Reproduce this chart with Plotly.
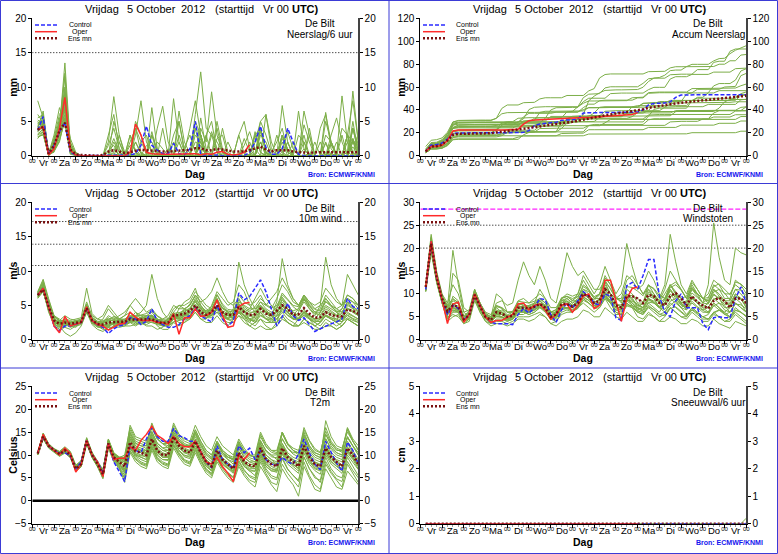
import plotly.graph_objects as go

W, H = 778, 554
FONT = "Liberation Sans, Arial, Helvetica, sans-serif"

# ---------------- time axis ----------------
lead_hours = list(range(6, 361, 6))          # 6-hourly steps, +6h .. +360h
oper_hours = lead_hours[:40]                 # operational run to +240h
boundary_hours = list(range(0, 361, 24))     # 00 UTC day boundaries
minor_hours = [h for h in range(6, 360, 6) if h % 24]
day_labels = ["Vr", "Za", "Zo", "Ma", "Di", "Wo", "Do", "Vr", "Za", "Zo", "Ma", "Di", "Wo", "Do", "Vr"]
day_centers = [12 + 24 * d for d in range(len(day_labels))]

# ---------------- Neerslag / 6 uur (mm) ----------------
precip_control = [3.7,5.7,0.2,1.5, 3.5,4.8,0.5,0.1, 0,0,0,0,
                  0,0,0,0, 0,0.1,0.3,1.5, 4.3,1.5,0.8,0.3,
                  0.3,1.8,0.3,0.1, 1.0,5.0,0.2,0, 0,0.1,0,0,
                  0,0,0,0.5, 2.0,4.3,1.2,0.2, 0.2,1.0,4.0,2.0,
                  0.2,0,0,0, 0,0,0,0, 0,0,0,0]
precip_oper = [3.8,4.2,0.1,1.0, 4.0,8.5,0.8,0.1, 0,0,0,0,
               0,0,0,0, 0,0.5,4.6,3.0, 0.5,0.3,0.2,0.2,
               0.2,0.2,0.3,0.2, 0.3,0.3,0.1,0.3, 0.2,0.5,0.6,0.2,
               0.1,0.2,0.5,1.6]
precip_mean = [3.8,4.2,0.3,1.5, 3.6,4.8,0.9,0.2, 0.1,0.05,0.05,0,
               0.1,0.6,0.8,0.6, 0.4,0.5,0.7,0.9, 0.8,0.7,0.6,0.6,
               0.6,0.7,0.8,0.8, 0.8,1.1,1.1,0.8, 0.8,1.0,0.9,0.7,
               0.6,0.6,0.6,0.8, 1.0,1.3,0.9,0.6, 0.8,0.8,0.8,0.6,
               0.5,0.4,0.4,0.5, 0.5,0.6,0.6,0.5, 0.5,0.5,0.5,0.5]
precip_members = [
    [4.5,5.0,0.3,2.0, 4.0,13.5,1.5,0.2, 0,0,0.1,0,
     0,1.5,4.0,1.0, 0.2,0,0,0, 0,0,0.3,0,
     0,0,0.2,0, 0,2.0,1.5,0, 0.3,0,0,0,
     0,0,0,0.2, 0,0,0.3,0, 0,2.5,1.0,0,
     0,0,0.3,0, 0,0.2,0,0, 0,0.5,0,0],
    [3.0,4.0,0.0,1.0, 3.0,6.0,0.5,0.0, 0,0,0,0,
     0,0,2.0,0.5, 0,0.3,0,0, 0,0.5,0,0,
     0,3.0,5.0,1.0, 0,6.0,12.2,4.0, 3.0,2.0,0.5,0,
     0,0.3,0,0, 2.0,5.0,3.0,0.5, 2.0,4.0,0.5,0,
     3.0,2.0,0,0, 0,3.0,2.0,0.3, 4.0,3.0,2.0,2.0],
    [8.0,5.5,0.5,1.5, 5.0,9.0,1.0,0.1, 0,0,0.1,0,
     0,2.0,8.6,3.0, 0,0,2.0,0.3, 0,3.0,1.0,0,
     0,0,2.0,0, 0,0,4.0,2.0, 9.3,3.0,0.5,0,
     0,0,0,0, 0,2.0,0.3,0, 0,3.0,1.0,0,
     0,0,0.2,0, 0,0,2.0,0, 3.0,0,5.0,0.5],
    [2.5,3.5,0.1,0.8, 2.5,5.0,0.3,0, 0,0,0,0,
     0,0,0,0, 0,1.5,1.0,0, 0,0,0,0.2,
     0,0,0,0, 0,0,1.5,0, 0,0,0,0,
     0,0,0,0, 0,0,0,0, 0,0.2,0,0,
     0,1.0,0,0, 0,0,0,0, 0,0,1.3,0],
    [4.0,6.5,0.2,2.5, 6.0,7.5,2.0,0.3, 0,0,0,0,
     0,0,0.3,0, 0,0,3.0,8.0, 2.0,0.5,0,0,
     0,0,0,0, 0,3.0,2.0,0, 0,0,0.3,0,
     0,0,2.5,0.5, 0,4.0,0.5,0, 0,0,0,0,
     0,3.0,0,0, 0,0.5,0,0, 0,0,2.0,1.5],
    [3.5,4.5,0.1,1.2, 3.5,8.0,0.8,0.1, 0,0,0,0,
     0,0,5.0,2.0, 0,0,0,0, 0,0,4.0,7.2,
     2.0,0.3,0,0, 0,5.0,3.0,0, 0,0,4.0,0.5,
     0,0,0,0, 0,3.0,2.0,0, 0,7.3,2.0,0,
     0,2.0,0,0, 0,2.0,0,0, 0,3.0,0.5,0],
    [5.0,4.0,0.3,3.0, 7.0,4.5,0.5,0, 0,0,0,0,
     0,0,0,0, 0,2.0,4.0,0.5, 0,7.0,1.0,0,
     0,0,0,0.3, 0,0,3.0,0, 0,0,0,0,
     0,0,0,0, 3.5,0.5,0,0, 0,0,2.0,0,
     0,0,0,0, 0,0,0.3,0, 0,0,4.0,0.5],
    [3.8,5.0,0.0,1.0, 4.5,10.0,0.5,0.2, 0,0,0,0,
     0,0,0,0, 0,0,0,0, 1.5,2.0,0,0,
     0,0,3.0,0.5, 0,0,0,0, 0,0,0,0,
     0,0,0,0, 0,3.5,0.5,0, 0,0,0,0,
     0,0,0,0, 0,0,0,0, 0,3.0,0.3,0],
    [2.8,3.0,0.2,0.5, 3.0,6.5,1.0,0, 0,0,0,0,
     0,0,0.5,3.0, 0.5,0,0,0, 0,0,0,0,
     0,8.3,2.0,0, 0,0,0.5,3.0, 0,4.0,0.5,0,
     0,0,0,0, 0,0,6.0,2.0, 0,0,0,0,
     6.5,1.0,0,0, 0,0,2.0,0, 0,0,0,0],
    [6.0,4.8,0.4,2.0, 4.0,7.0,2.5,0.5, 0,0,0,0,
     0,0,0,0, 0,0,2.0,0.3, 0,0,0,0,
     0,0,0,0, 0,4.0,0.5,0, 0,0,0,0,
     0,3.0,0.3,0, 0,2.0,0,0, 3.0,0.5,0,0,
     0,0,0,0, 2.0,0,0,0, 0,0,4.0,0.5],
    [3.2,3.8,0.0,1.5, 5.5,5.5,0.2,0, 0,0,0,0,
     0,3.0,6.0,1.0, 0,3.0,0.5,0, 0,0,0,0,
     0,0,5.0,0.5, 4.0,8.0,3.0,0.5, 0,5.0,1.0,0,
     0,0,0,0, 3.0,4.0,0.5,0, 0,3.0,0.5,0,
     0,0,4.0,0, 0,6.3,1.0,0, 8.7,2.0,0,0],
    [4.2,5.2,0.2,1.8, 3.8,11.5,0.8,0.1, 0,0,0,0,
     0,0,0,0, 0,0,0,2.0, 3.0,0.5,0,0,
     0,0,0,0, 0,0,2.0,0, 0,0,0,2.0,
     0.3,0,0,0, 0,0,0,0, 0,0,2.0,0,
     0,0,0,0, 0,0,0,0, 0,0,0,3.4],
    [3.5,4.2,0.1,0.6, 2.0,5.5,0.5,0, 0,0,0,0,
     0,0,1.0,0, 0,0,0,0, 0,0,0,0,
     0,2.0,0.3,0, 0,0,3.0,0, 0,0,0,0,
     0,0,0,0, 0,2.0,0,0, 0,0,0,2.0,
     0,0,0,0, 0,0,1.6,0, 0,0,2.0,0],
    [5.5,6.0,0.3,2.2, 5.0,8.5,1.2,0.3, 0,0,0,0,
     0,0,0,0, 0,0,5.0,3.0, 0,0,0,0,
     1.0,0,0,0, 0,4.0,3.0,0, 3.0,0.5,0,0,
     0,0,0,2.0, 0,4.0,0.5,0, 0,0,0,0,
     0,0,3.0,0, 0,0,0,2.0, 0,0.5,9.4,2.0],
    [3.0,3.5,0.1,1.0, 3.2,7.2,0.6,0.1, 0,0,0,0,
     0,0,0,2.0, 0,0,0,0, 0,3.0,0.3,0,
     0,0,0,0, 0,0,2.5,0, 0,0,0,0,
     0,0,0,0, 0,0,0,0, 0,3.0,0.5,0,
     0,0,0,2.0, 0,1.8,0,0, 0,2.0,0,0],
    [4.8,4.5,0.2,1.6, 4.2,9.5,1.8,0.2, 0,0,0,0,
     0,0,0,0, 0,3.0,0.5,0, 0,0,0,4.0,
     0,0,0,0, 0,0,0,3.0, 5.0,0.5,0,0,
     0,0,0,0, 3.0,0.5,0,0, 0,2.0,0,0,
     0,0,0,0, 0,0,0,0, 0,3.0,2.2,0],
    [3.6,4.8,0.2,1.3, 3.8,7.8,1.0,0.1, 0,0,0,0,
     0,0.5,2.5,0.5, 0,0,0.3,0, 0,0,2.0,1.0,
     0,0,0,0, 0,0,0,0.5, 3.5,1.0,0,0,
     0,0,0,0, 0,0,0,0, 0,0.5,3.5,1.0,
     0,0,0,0, 0,0,0,0.3, 0,0,2.5,0.5],
    [4.3,5.5,0.4,2.4, 4.6,6.8,1.4,0.2, 0,0,0,0,
     0,0,0,0.3, 0,0,0,0, 0,0,0,0,
     0,0,6.5,2.0, 0.3,0,0,0, 0,0,0,0,
     0,3.0,5.0,1.0, 0,0,0,0, 0,0,0,0,
     0,4.5,2.0,0, 0,0,0,0, 0,0,4.0,1.5],
    [2.6,3.2,0.0,0.7, 2.2,5.2,0.4,0, 0,0,0,0,
     0,0,0,0, 0,0,4.0,2.0, 0.5,0,0,0,
     0,0,0,0, 0,0,5.5,1.0, 0,0,0,0,
     0,0,0,0, 0,4.0,1.0,0, 0,0,0,0,
     0,0,0,0, 0,5.0,2.0,0, 0,0,0,0],
    [5.2,4.6,0.3,1.9, 4.4,12.0,0.9,0.2, 0,0,0,0,
     0,0,0,0, 0,0,0,0, 0,0,0,0,
     0,0,0,0, 0,0,0,0, 0,0,0,0,
     0,0,0,0, 0,5.0,6.0,1.0, 0,0,0,0,
     0,6.5,3.0,0, 4.0,6.0,2.0,0, 0,3.0,8.0,2.0],
    [3.9,4.4,0.1,1.1, 3.3,8.6,0.7,0.1, 0,0,0,0,
     0,0,0,0, 0,0,0,0, 0,3.5,0.5,0,
     0,0,0,0, 0,0,0,0, 0,2.5,3.0,0,
     0,0,0,0, 0,0,0,0, 0,0,0,0,
     0,0,0,0, 0,0,0,0, 0,0,2.5,0],
    [4.6,5.8,0.3,1.7, 4.9,7.0,1.1,0.2, 0,0,0,0,
     0,0.8,1.5,0, 0,0,0,0, 0,0,0,0,
     0,0,0,1.2, 3.0,0.5,0,0, 0,0,0,0,
     0,0,1.5,3.5, 1.0,0,0,0, 0,0,0,0,
     0,0,0,0, 0,0,3.0,5.5, 2.0,0,0,0],
]

# ---------------- 10 m wind (m/s) ----------------
wind_control = [6.5,7.5,4.8,2.0, 1.3,2.0,2.0,2.3, 2.5,4.7,2.8,2.2,
                1.8,0.9,1.6,2.0, 2.2,3.2,3.0,2.2, 2.7,4.5,2.7,2.2,
                1.8,1.8,2.2,3.0, 3.5,4.6,3.5,3.0, 2.6,5.0,3.0,2.0,
                2.7,6.8,5.8,6.3, 7.5,8.7,7.0,4.5, 2.0,3.3,5.3,3.5,
                2.8,3.2,2.2,1.2, 1.6,2.0,2.3,2.6, 3.0,6.0,4.8,4.5]
wind_oper = [6.5,7.5,4.8,2.0, 1.0,3.4,2.0,2.2, 2.5,4.8,2.8,2.2,
             2.0,1.4,1.8,2.3, 2.4,4.0,3.3,2.8, 2.8,2.8,2.5,2.5,
             2.2,3.8,0.8,3.2, 3.2,4.5,3.4,3.5, 4.0,5.8,3.5,1.8,
             2.0,4.8,5.3,5.4]
wind_mean = [6.5,7.3,4.8,2.8, 2.3,2.5,2.3,2.4, 2.6,4.6,2.8,2.3,
             2.2,2.5,2.6,2.6, 2.6,3.0,2.9,2.9, 2.9,3.0,2.6,2.4,
             2.5,3.5,3.6,3.8, 4.2,5.0,4.0,3.6, 4.0,5.0,4.0,3.6,
             3.6,4.8,4.0,3.6, 3.7,4.5,3.8,3.6, 4.2,5.0,4.5,3.6,
             3.7,4.6,3.8,3.2, 3.3,4.0,3.6,3.4, 3.4,4.4,4.2,3.8]
wind_members = [
    [6.8,8.0,5.2,3.0, 2.5,3.0,2.0,2.5, 2.8,5.0,3.0,2.5,
     3.0,4.5,3.5,2.8, 2.5,3.0,4.0,3.0, 2.8,3.5,2.5,2.0,
     2.0,3.0,4.5,5.5, 6.0,7.5,5.0,4.0, 4.5,6.0,4.0,3.0,
     2.5,3.5,3.0,2.0, 2.5,4.0,3.0,2.5, 3.5,6.0,5.0,4.0,
     3.5,4.5,3.0,2.5, 2.0,3.0,2.5,2.0, 2.5,5.0,4.5,3.5],
    [6.2,7.0,4.5,2.5, 1.5,2.0,2.5,2.8, 2.5,4.2,2.5,2.0,
     1.5,1.5,2.0,2.5, 3.0,3.5,2.5,3.0, 3.5,4.0,3.0,2.5,
     3.0,4.0,3.0,3.0, 3.5,4.5,3.5,3.5, 5.0,7.0,6.0,5.0,
     5.5,8.0,7.0,5.0, 4.0,5.0,4.0,3.0, 2.5,3.5,2.5,2.0,
     3.0,4.0,3.5,3.0, 4.0,5.5,5.0,4.0, 3.0,3.5,3.0,2.5],
    [6.6,7.6,5.5,3.5, 3.0,2.5,2.0,2.0, 2.5,5.0,3.2,2.5,
     2.0,2.5,3.0,3.5, 4.0,5.0,4.0,3.5, 3.0,3.5,3.0,2.5,
     2.0,2.5,2.0,2.5, 3.0,4.0,3.0,2.5, 2.5,3.5,2.5,2.0,
     3.0,5.0,4.0,4.5, 6.0,7.5,6.0,5.0, 4.0,5.5,4.5,3.5,
     3.0,4.0,3.0,2.0, 1.5,2.5,2.0,1.5, 2.0,3.0,2.5,2.0],
    [6.4,7.2,4.0,2.2, 1.8,2.2,2.5,2.5, 2.5,4.5,2.5,2.0,
     2.5,3.0,2.0,1.8, 2.0,2.5,2.0,2.5, 3.0,3.5,2.0,1.5,
     1.5,2.5,3.5,4.5, 5.0,6.5,5.5,4.5, 4.0,5.0,3.5,3.0,
     3.5,5.0,4.0,3.0, 3.0,4.0,3.0,3.0, 4.0,5.0,4.0,3.5,
     4.5,6.5,5.5,4.5, 5.0,6.0,5.0,4.0, 3.5,4.5,4.0,3.5],
    [7.0,8.8,6.0,3.5, 2.8,3.5,3.0,2.8, 3.0,5.5,3.5,3.0,
     3.5,5.0,4.0,3.0, 2.5,3.0,3.0,2.5, 2.0,2.0,1.5,1.8,
     2.5,4.0,5.0,4.5, 4.0,5.0,4.0,3.5, 4.0,6.5,5.0,4.0,
     3.0,4.0,3.5,2.5, 2.0,3.0,2.5,2.5, 3.0,4.0,3.0,2.5,
     2.0,3.0,2.5,2.0, 2.5,3.5,3.0,2.5, 3.0,4.5,4.0,3.5],
    [6.0,7.0,4.2,2.0, 1.5,1.8,1.5,2.0, 2.2,4.0,2.5,2.0,
     1.8,2.0,2.5,3.0, 3.5,4.0,3.0,2.5, 2.5,3.0,2.5,2.0,
     2.5,3.5,3.0,3.5, 4.5,6.0,5.0,4.0, 3.5,4.5,3.5,3.0,
     4.0,6.5,5.5,5.0, 5.5,6.5,5.0,4.5, 6.0,8.0,7.0,5.5,
     5.0,6.5,5.0,4.0, 3.5,4.5,4.0,3.5, 4.5,6.5,6.0,5.0],
    [6.7,7.8,5.0,3.0, 2.6,3.0,2.8,3.0, 3.2,7.5,3.8,3.0,
     2.8,3.0,3.2,3.0, 3.0,3.5,3.5,4.0, 5.0,9.5,6.0,4.0,
     3.0,3.5,2.8,3.0, 3.5,5.0,4.0,3.5, 3.5,4.5,4.0,3.5,
     4.5,11.3,8.0,6.0, 4.5,5.0,4.0,3.5, 3.0,4.5,3.5,3.0,
     3.0,4.0,3.5,3.0, 4.0,6.0,5.0,4.5, 5.0,6.0,5.5,5.0],
    [6.3,7.4,4.6,2.6, 2.0,2.3,2.2,2.3, 2.4,4.4,2.6,2.2,
     2.0,2.2,2.2,2.0, 2.0,2.0,2.2,2.5, 2.8,3.0,2.8,2.5,
     3.0,4.5,5.0,5.0, 5.5,7.0,6.0,5.0, 4.5,6.0,4.5,4.0,
     3.5,4.5,3.5,3.0, 2.5,3.0,2.0,1.5, 2.5,5.0,4.0,3.0,
     4.0,6.0,5.0,4.0, 4.5,6.5,5.5,4.5, 4.0,5.5,5.0,4.0],
    [6.9,8.2,5.8,3.2, 2.2,2.5,2.0,1.8, 2.5,4.8,3.0,2.3,
     2.5,3.5,3.0,2.5, 2.5,2.8,2.5,2.2, 2.5,2.8,2.5,2.2,
     2.0,3.0,3.5,3.0, 3.0,4.0,3.0,3.0, 4.5,5.5,4.0,3.5,
     3.0,4.0,3.0,2.5, 3.5,5.0,4.0,3.5, 5.5,11.8,8.0,6.0,
     5.0,6.0,4.5,3.5, 5.0,12.0,8.0,6.0, 5.0,9.5,8.0,6.5],
    [6.5,7.5,4.4,2.4, 2.4,2.7,2.6,2.6, 2.6,4.3,2.4,1.8,
     1.8,1.8,1.8,2.2, 2.4,3.0,3.5,3.5, 3.5,3.5,3.0,2.8,
     2.5,3.0,3.5,4.0, 4.5,5.5,4.5,4.0, 4.0,5.0,4.0,3.5,
     3.5,4.5,3.5,3.0, 2.5,3.5,3.0,2.5, 2.5,3.5,2.5,2.0,
     2.0,3.0,2.5,2.0, 2.5,3.5,3.0,2.5, 2.0,3.0,2.5,2.0],
    [6.6,7.0,4.8,3.0, 2.0,1.0,0.5,1.0, 2.0,4.0,2.2,1.5,
     1.2,1.8,2.5,3.0, 3.5,5.0,6.0,5.0, 4.0,4.5,3.5,3.0,
     3.0,3.0,2.5,2.5, 3.5,4.5,3.5,3.5, 3.5,4.0,3.0,2.5,
     2.5,3.5,2.5,2.0, 1.5,2.0,1.5,1.5, 2.0,3.0,2.5,2.0,
     2.0,2.5,2.0,1.5, 1.5,2.0,2.0,1.5, 2.0,3.0,2.5,2.0],
    [6.4,7.9,5.3,3.4, 2.8,2.8,2.4,2.6, 2.8,4.9,3.2,2.6,
     2.5,2.8,2.8,2.6, 2.5,3.0,3.2,3.0, 3.0,3.0,2.8,3.0,
     3.5,5.0,4.5,4.5, 5.0,6.5,5.5,6.0, 7.0,9.0,7.0,5.5,
     5.0,6.0,4.5,4.0, 4.0,4.5,4.0,3.5, 4.0,5.0,4.0,3.0,
     3.0,3.5,3.0,2.5, 3.0,4.0,3.5,3.0, 3.5,4.0,3.5,3.0],
    [6.2,7.1,4.3,2.6, 2.2,2.0,2.5,2.8, 2.6,4.6,2.7,2.1,
     2.4,2.6,2.3,2.4, 2.3,2.6,2.3,2.6, 2.6,2.5,2.2,2.0,
     2.0,2.6,2.8,3.2, 3.8,4.5,3.8,3.2, 3.2,4.0,3.5,3.5,
     4.0,5.5,5.0,4.5, 4.5,5.5,5.0,6.0, 7.0,9.0,7.5,6.0,
     5.0,6.5,5.5,5.0, 5.5,7.5,6.5,5.5, 5.0,6.5,6.0,5.0],
    [6.8,8.4,5.0,2.8, 2.6,2.4,2.2,2.2, 2.4,4.4,2.8,2.4,
     2.2,2.0,2.4,2.6, 2.6,3.2,3.0,3.2, 3.4,3.6,3.0,2.6,
     2.6,3.6,3.6,3.8, 4.0,4.8,3.8,3.2, 3.6,4.6,3.6,3.2,
     3.2,4.2,3.4,3.0, 3.4,4.6,3.8,3.4, 4.2,5.2,4.4,3.6,
     3.2,4.0,3.4,3.0, 3.0,3.6,3.2,3.0, 2.6,3.2,2.8,2.5],
    [6.6,7.7,5.1,2.9, 2.1,2.6,2.4,2.4, 2.7,4.9,3.0,2.4,
     2.3,2.9,3.4,3.1, 2.8,3.3,3.0,2.7, 3.0,3.4,2.9,2.6,
     2.8,3.6,3.2,3.5, 4.0,4.8,4.2,3.8, 3.8,4.6,3.8,3.6,
     3.2,4.0,3.6,3.4, 3.8,5.0,4.3,3.6, 3.4,4.2,3.6,3.0,
     2.8,3.6,3.2,2.8, 2.6,3.4,3.0,2.6, 3.2,4.6,4.2,3.6],
    [6.1,7.3,4.6,2.3, 1.9,2.1,2.1,2.4, 2.3,4.1,2.6,2.0,
     1.7,1.9,2.6,2.9, 2.6,2.8,2.6,2.8, 3.2,3.1,2.4,2.1,
     2.2,3.2,3.9,4.3, 5.2,6.3,4.8,4.2, 4.3,5.6,4.6,4.2,
     4.0,5.2,4.1,3.5, 3.2,4.2,3.4,3.0, 4.5,6.5,5.8,4.8,
     4.2,5.5,4.5,3.8, 3.6,4.8,4.2,3.6, 3.8,5.2,4.6,4.0],
    [6.5,7.6,4.9,2.7, 2.5,2.9,2.6,2.5, 2.6,4.5,2.7,2.2,
     2.1,2.3,2.6,2.7, 2.5,2.7,2.8,3.3, 3.2,3.3,2.7,2.4,
     2.3,3.2,3.0,3.4, 3.9,5.2,4.4,3.9, 4.4,5.8,4.7,4.0,
     4.2,5.8,4.8,4.2, 4.8,6.0,5.2,4.6, 5.0,6.2,5.0,4.0,
     3.5,4.2,3.6,3.0, 3.2,4.2,3.8,3.4, 3.0,3.8,3.4,3.0],
    [6.9,8.6,5.6,3.3, 2.7,2.2,1.8,2.1, 2.6,4.7,2.9,2.5,
     2.6,3.2,2.6,2.2, 2.2,2.5,2.7,2.4, 2.2,2.6,2.3,2.3,
     2.6,3.8,4.0,3.6, 3.5,4.3,3.6,3.2, 3.5,4.8,4.2,3.8,
     3.8,4.6,4.0,3.8, 4.2,5.5,4.5,4.0, 4.6,5.8,4.8,4.2,
     4.5,5.8,4.8,4.0, 4.0,5.0,4.5,4.0, 4.5,6.0,5.5,4.5],
    [6.3,7.2,4.4,2.5, 2.3,2.4,2.2,2.3, 2.5,4.3,2.5,2.0,
     2.0,2.1,2.3,2.3, 2.4,2.9,2.9,3.2, 3.0,3.2,2.9,2.7,
     2.4,3.3,3.7,4.1, 4.6,5.6,4.5,3.7, 3.6,4.3,3.3,2.9,
     2.9,3.9,3.2,2.8, 2.8,3.6,3.1,2.8, 3.6,4.6,3.9,3.2,
     3.0,3.8,3.1,2.6, 2.7,3.6,3.2,2.8, 2.6,3.6,3.1,2.8],
    [6.7,7.9,5.4,3.1, 2.4,2.7,2.5,2.7, 2.9,5.2,3.3,2.7,
     2.6,2.7,2.9,2.9, 2.9,3.4,3.3,3.6, 3.8,4.2,3.4,2.9,
     2.7,3.9,3.4,3.6, 4.3,5.8,4.6,4.2, 4.8,6.6,5.2,4.4,
     4.3,5.3,4.3,3.6, 3.6,4.8,4.1,3.8, 4.8,6.8,5.9,5.0,
     4.8,6.2,5.2,4.4, 4.2,5.6,4.8,4.2, 4.0,5.4,4.8,4.2],
]

# ---------------- Windstoten (m/s) ----------------
gust_control = [11.0,21.5,14.0,8.5, 5.5,7.5,6.8,4.2, 5.5,9.8,7.5,5.0,
                3.8,3.5,3.5,3.5, 3.3,5.5,6.8,5.8, 7.0,9.0,8.7,5.5,
                3.8,6.5,8.0,7.0, 8.5,10.5,9.5,8.0, 7.5,10.0,9.5,4.8,
                4.2,11.8,12.5,11.0, 14.0,17.5,17.5,9.5, 6.0,5.0,8.5,10.0,
                7.0,7.0,7.0,3.5, 2.2,4.8,5.0,4.8, 4.8,9.0,11.5,8.0]
gust_oper = [11.5,21.5,14.0,8.5, 3.5,7.8,8.2,3.8, 5.5,10.0,7.5,5.0,
             3.8,4.2,4.2,4.8, 5.5,7.8,8.0,6.5, 7.5,7.8,6.5,4.5,
             5.5,7.5,7.8,6.0, 7.5,9.5,10.0,6.8, 7.5,13.0,13.0,8.5,
             4.0,9.0,11.2,11.5]
gust_mean = [11.5,21.0,13.5,9.0, 6.2,7.5,7.2,4.5, 5.3,9.8,7.2,5.0,
             4.3,6.0,5.7,5.0, 5.2,7.0,7.0,6.8, 7.2,7.8,7.0,5.0,
             5.5,7.8,7.8,7.2, 8.0,10.0,9.5,8.0, 8.5,11.0,10.0,7.5,
             7.0,9.5,9.5,9.0, 8.0,9.8,9.5,8.0, 7.5,9.5,10.2,9.0,
             7.5,9.5,8.2,7.5, 6.8,8.5,9.2,8.5, 7.0,9.0,9.0,8.0]
gust_members = [
    [11.0,22.0,14.0,9.0, 6.0,8.0,7.0,4.5, 5.5,10.0,7.0,5.0,
     4.0,6.0,6.5,5.0, 5.5,7.5,7.0,6.5, 7.0,8.0,7.0,5.0,
     6.0,8.0,8.5,7.5, 8.5,11.0,10.0,8.0, 9.0,12.0,10.0,8.0,
     7.0,10.0,9.0,7.0, 6.0,8.0,7.0,6.0, 8.0,12.0,10.0,8.0,
     7.0,9.0,8.0,7.0, 6.0,8.0,7.0,6.0, 7.0,10.0,9.0,7.0],
    [10.5,20.0,13.0,8.0, 4.0,5.0,5.5,3.5, 4.5,9.0,6.0,4.0,
     3.5,4.0,4.0,3.5, 4.0,5.0,5.0,5.0, 5.5,6.0,5.0,3.5,
     4.0,5.5,6.0,6.0, 7.0,8.0,7.0,6.0, 7.0,9.0,7.0,5.5,
     5.5,8.0,7.0,5.0, 4.5,6.0,5.0,4.0, 5.0,7.0,6.0,5.0,
     4.5,6.0,5.0,4.0, 4.0,5.5,5.0,4.0, 4.5,6.0,5.0,4.0],
    [12.0,23.0,15.0,10.0, 8.0,12.0,10.0,6.0, 6.5,11.0,8.0,6.0,
     5.5,7.5,7.0,6.0, 6.0,8.5,9.0,8.0, 9.0,10.0,9.0,7.0,
     7.0,9.0,10.0,9.5, 10.0,13.0,11.0,9.0, 10.0,14.0,12.0,9.5,
     8.0,11.0,10.0,8.0, 8.0,11.0,10.0,8.5, 11.0,15.0,13.0,11.0,
     9.0,12.0,10.0,8.0, 9.0,12.0,11.0,9.0, 9.0,13.0,12.0,10.0],
    [11.5,21.0,13.5,9.0, 5.0,14.5,13.0,7.0, 6.0,10.5,7.5,5.5,
     4.5,5.0,5.0,4.5, 5.0,6.0,6.0,5.5, 6.0,7.0,6.0,4.5,
     5.0,6.5,7.0,7.0, 8.0,10.5,9.0,7.5, 8.0,11.0,9.0,7.0,
     6.5,9.5,8.0,6.5, 7.0,9.5,9.0,7.0, 8.0,11.0,9.0,7.5,
     7.0,9.0,8.0,7.0, 8.0,11.0,9.5,8.0, 8.0,10.0,9.0,7.0],
    [11.0,21.5,14.5,9.5, 7.0,19.5,12.0,6.0, 5.0,9.5,7.0,5.0,
     4.5,7.0,6.0,4.5, 5.0,7.0,6.5,6.0, 7.0,8.5,7.5,5.5,
     5.5,8.0,9.0,8.0, 9.0,12.0,11.0,9.0, 10.0,12.5,10.0,8.0,
     7.0,9.0,7.5,6.0, 5.5,7.5,6.5,5.5, 6.0,8.0,7.0,6.0,
     5.0,7.0,6.0,5.0, 5.5,7.5,6.5,5.5, 5.0,7.0,6.0,5.0],
    [10.8,19.0,12.5,8.0, 4.5,6.0,6.0,4.0, 4.5,9.0,6.5,4.5,
     4.0,5.0,5.0,4.0, 4.5,5.5,5.5,6.5, 8.0,11.0,9.0,6.0,
     5.5,7.0,8.0,8.5, 10.0,14.0,12.0,10.0, 12.0,16.0,13.0,10.0,
     12.0,21.0,16.0,12.0, 10.0,12.0,10.0,8.0, 9.0,12.0,10.0,8.0,
     7.0,9.5,8.0,6.5, 7.0,9.0,8.0,6.5, 6.0,8.0,7.0,6.0],
    [11.8,22.5,14.0,8.5, 6.5,7.0,6.5,4.0, 5.0,10.0,7.5,5.5,
     5.0,10.0,9.0,6.0, 6.0,8.0,7.5,7.0, 7.5,9.0,8.0,6.0,
     6.5,9.0,9.5,8.5, 8.5,10.0,9.0,8.0, 8.0,10.0,8.5,7.0,
     7.0,9.0,8.0,7.0, 8.0,12.0,11.0,9.0, 12.0,23.0,17.0,12.0,
     10.0,13.0,11.0,9.0, 8.0,10.0,9.0,7.0, 7.0,9.0,8.0,6.0],
    [11.2,20.5,13.0,8.5, 5.5,6.5,6.0,4.0, 5.0,9.5,6.5,4.5,
     3.5,4.5,4.5,4.0, 4.5,6.0,6.0,5.5, 6.0,7.0,6.5,4.5,
     4.0,6.0,6.5,6.0, 7.0,9.0,8.0,7.0, 8.0,10.0,8.0,6.5,
     6.5,8.5,7.5,6.0, 6.5,9.0,8.0,7.0, 8.0,10.0,8.5,7.0,
     8.0,11.0,9.5,8.0, 12.0,25.5,18.0,13.0, 12.0,20.0,19.0,18.5],
    [12.0,22.0,14.5,9.5, 7.5,9.0,8.0,5.0, 6.0,11.0,8.0,5.5,
     5.0,8.0,8.5,7.5, 8.0,13.0,17.0,14.0, 12.0,16.0,13.0,9.0,
     8.0,13.0,19.0,16.0, 14.0,15.0,13.0,11.0, 11.0,13.0,11.0,9.0,
     8.5,10.0,9.0,7.5, 7.0,9.0,8.0,7.0, 7.5,9.0,8.0,7.0,
     6.5,8.0,7.0,6.0, 6.0,8.0,7.0,5.5, 6.0,8.0,7.0,6.0],
    [10.5,20.5,12.5,8.0, 4.5,5.5,5.0,3.5, 4.0,8.5,6.0,4.0,
     3.0,3.5,3.5,3.0, 3.5,4.5,4.5,4.0, 4.5,5.5,5.0,3.5,
     3.0,4.0,4.5,4.5, 5.0,6.5,6.0,5.0, 5.0,7.0,6.0,5.0,
     4.5,6.0,5.0,4.0, 4.0,5.5,5.0,4.0, 4.0,5.0,4.5,3.5,
     3.5,4.5,4.0,3.0, 3.0,4.5,3.5,3.0, 2.5,4.0,3.5,3.0],
    [11.5,21.0,13.5,9.0, 6.0,7.5,7.0,4.5, 5.5,10.0,7.0,5.0,
     4.0,5.5,5.5,5.0, 5.0,7.0,7.0,7.5, 8.0,9.0,8.0,6.0,
     6.0,9.0,9.5,9.0, 9.5,11.0,10.5,9.0, 9.0,11.5,10.0,9.0,
     10.0,14.0,13.0,11.0, 12.0,15.0,13.0,10.0, 9.0,11.0,9.5,8.0,
     8.5,11.0,10.0,9.0, 10.0,13.0,12.0,10.0, 10.0,12.0,11.0,9.0],
    [11.0,20.0,13.0,8.5, 5.5,6.5,6.0,3.8, 4.8,9.5,6.8,4.8,
     4.0,6.5,6.0,5.0, 5.0,6.5,6.0,6.0, 6.5,7.5,6.5,5.0,
     5.0,7.0,7.0,6.5, 7.0,9.0,8.0,7.0, 7.5,9.5,8.0,6.5,
     6.0,8.0,7.0,6.0, 5.5,7.0,6.0,5.0, 5.5,7.0,6.0,5.0,
     5.0,6.5,5.5,4.5, 4.5,6.0,5.0,4.0, 4.0,5.5,4.5,3.5],
    [11.3,21.8,14.2,9.2, 6.8,8.5,7.8,4.8, 5.8,10.4,7.6,5.3,
     4.6,6.2,6.0,5.2, 5.6,7.6,7.8,7.2, 7.4,8.4,7.4,5.4,
     6.2,8.6,8.4,7.6, 8.0,10.0,9.4,8.2, 8.6,10.4,9.0,7.6,
     7.6,9.6,8.6,7.4, 7.8,10.4,9.6,8.2, 10.0,12.0,10.5,9.0,
     9.5,12.5,11.0,9.0, 8.5,11.0,10.0,8.5, 8.5,11.0,10.0,8.5],
    [10.6,19.5,13.0,8.8, 6.2,7.0,6.8,4.2, 5.2,9.8,7.2,5.0,
     4.2,5.8,5.5,4.6, 5.0,6.8,6.6,6.4, 7.0,7.8,7.0,5.2,
     5.6,7.6,7.8,7.0, 7.6,9.4,8.6,7.4, 7.8,9.6,8.4,7.0,
     7.0,8.8,8.0,6.8, 7.0,9.0,8.4,7.2, 8.8,10.6,9.6,8.2,
     8.2,10.2,9.2,8.0, 7.8,9.8,9.0,7.6, 7.8,9.6,8.8,7.4],
    [11.2,21.2,13.8,9.0, 6.4,7.8,7.3,4.6, 5.4,9.9,7.3,5.1,
     4.4,6.0,5.8,5.0, 5.2,7.2,7.2,6.8, 7.2,8.0,7.2,5.2,
     5.8,8.2,8.0,7.4, 8.2,10.2,9.6,8.2, 8.6,11.2,10.0,7.8,
     7.2,9.8,9.6,9.0, 8.2,10.0,9.4,8.0, 7.6,9.4,10.0,9.0,
     7.6,9.6,8.4,7.6, 7.0,8.8,9.4,8.6, 7.2,9.2,9.0,8.0],
    [10.8,20.8,13.2,8.6, 5.8,6.8,6.4,4.0, 4.8,9.2,6.6,4.6,
     3.8,5.2,5.0,4.4, 4.6,6.2,6.2,6.0, 6.4,7.2,6.4,4.6,
     4.8,7.0,7.0,6.6, 7.4,9.2,8.6,7.4, 7.8,10.2,9.0,7.0,
     6.4,8.6,8.4,7.8, 7.0,8.6,8.2,7.0, 6.6,8.4,9.0,7.8,
     6.6,8.4,7.2,6.4, 5.8,7.4,8.0,7.4, 6.0,7.8,7.6,6.8],
    [11.6,22.2,14.6,9.8, 7.2,8.8,8.2,5.2, 6.2,10.8,8.0,5.8,
     5.0,7.2,7.0,6.0, 6.2,8.4,8.2,8.0, 8.4,9.0,8.0,6.0,
     6.6,9.2,9.4,8.6, 9.4,11.6,10.8,9.4, 10.0,12.6,11.2,9.0,
     8.4,11.6,11.4,10.6, 9.6,11.8,11.2,9.6, 9.0,11.4,12.0,10.8,
     9.0,11.4,10.0,9.0, 8.4,10.4,11.0,10.2, 8.6,11.0,10.8,9.6],
    [11.4,21.6,14.2,9.2, 5.6,9.5,8.5,5.0, 5.6,10.2,7.4,5.2,
     4.2,5.6,5.0,4.2, 4.4,6.4,6.6,6.2, 6.6,7.8,7.4,5.6,
     5.2,7.2,7.0,6.2, 7.2,9.8,9.8,8.6, 9.8,13.5,12.0,9.0,
     9.0,13.0,14.0,12.0, 10.0,11.0,9.0,7.0, 6.0,7.5,8.5,7.0,
     5.5,7.0,6.0,5.0, 4.5,6.0,6.5,6.0, 5.0,6.5,6.0,5.0],
    [10.9,20.2,12.8,8.2, 4.8,6.2,6.4,4.4, 5.0,9.4,7.0,5.0,
     4.8,7.4,6.8,5.4, 6.0,8.0,7.4,7.4, 7.8,8.6,7.0,4.8,
     5.6,8.6,9.0,8.0, 8.6,10.6,9.2,7.4, 7.6,9.4,8.0,6.0,
     5.6,7.6,7.4,7.0, 6.4,8.2,8.0,7.0, 8.8,11.8,12.6,11.0,
     9.0,11.4,10.0,9.0, 9.2,11.6,12.2,11.0, 9.8,12.6,12.2,11.0],
    [11.7,22.0,14.0,8.8, 6.0,7.0,6.6,4.2, 5.2,9.6,6.9,4.9,
     4.0,5.2,4.8,4.4, 4.8,6.4,6.4,6.0, 6.6,7.2,6.2,4.4,
     4.6,6.6,6.8,6.2, 6.8,8.6,8.0,6.8, 7.0,9.0,8.0,6.0,
     5.4,7.4,7.0,6.4, 5.8,7.2,6.6,5.6, 5.2,6.8,7.2,6.2,
     5.2,6.6,5.8,5.0, 4.4,5.8,6.4,5.8, 4.6,6.4,6.0,5.2],
]

# ---------------- T2m (Celsius) ----------------
t2m_control = [10.5,14.2,12.0,11.0, 10.5,10.5,9.8,7.0, 8.5,13.2,10.0,8.5,
               6.0,12.5,8.5,6.2, 4.2,12.0,11.0,10.5, 13.5,16.0,14.0,13.0,
               13.0,15.8,14.2,13.8, 13.0,13.0,10.8,8.5, 7.2,12.0,9.0,8.0,
               7.0,12.0,10.5,11.5, 9.0,11.0,9.0,8.0, 7.8,9.5,8.5,8.0,
               10.2,13.5,10.5,8.0, 6.8,13.0,10.5,8.2, 6.5,12.8,11.0,8.0]
t2m_oper = [10.5,14.5,12.0,11.0, 10.0,11.5,10.3,6.3, 8.0,13.2,10.0,8.5,
            5.3,12.5,9.0,9.3, 9.3,11.8,11.0,13.2, 14.5,16.3,14.3,13.5,
            12.5,14.0,12.5,11.8, 11.8,13.0,10.8,8.5, 8.0,9.5,7.5,6.0,
            4.2,10.0,9.0,10.5]
t2m_mean = [10.3,14.0,12.0,11.0, 10.2,11.0,10.0,7.0, 8.0,13.0,10.0,8.0,
            5.8,12.5,9.5,8.5, 7.5,12.8,10.8,10.5, 10.0,13.5,11.0,10.0,
            10.0,14.0,12.0,11.0, 10.5,13.0,10.5,8.5, 7.5,11.0,9.0,8.0,
            7.0,10.5,8.5,7.8, 7.5,11.5,9.0,8.0, 7.5,11.5,9.5,8.5,
            7.5,12.0,9.5,8.0, 7.5,11.5,9.5,8.5, 7.5,11.5,10.0,8.0]
t2m_members = [
    [10.5,14.5,12.2,11.0, 10.0,11.2,10.2,7.2, 8.2,13.2,10.2,8.2,
     6.0,12.8,9.8,9.0, 8.0,13.5,11.5,11.0, 10.5,14.5,12.0,11.0,
     11.0,15.0,13.0,12.0, 12.0,14.0,11.5,9.5, 8.5,12.0,10.0,9.0,
     8.0,11.5,9.5,8.5, 8.0,12.5,10.0,9.0, 8.5,12.5,10.5,9.5,
     9.0,13.0,10.5,9.0, 8.5,12.5,10.5,9.5, 9.0,13.0,11.0,9.0],
    [10.2,13.8,11.8,10.8, 10.2,10.8,9.8,6.8, 7.8,12.8,9.8,7.8,
     5.5,12.0,9.0,8.0, 6.5,12.0,10.0,9.5, 9.0,12.5,10.0,9.0,
     9.0,13.0,11.0,10.0, 9.5,12.0,9.5,7.5, 6.5,10.0,8.0,7.0,
     6.0,9.5,7.5,6.5, 6.5,10.5,8.0,7.0, 6.5,10.5,8.5,7.5,
     6.5,11.0,8.5,7.0, 6.5,10.5,8.5,7.5, 6.5,10.5,9.0,7.0],
    [10.4,14.2,12.1,11.2, 10.5,11.5,10.5,7.5, 8.5,13.5,10.5,8.5,
     6.5,13.5,10.5,9.5, 9.0,15.0,12.5,12.0, 12.0,16.0,13.5,12.5,
     12.5,16.5,14.5,13.5, 13.0,16.5,14.0,12.0, 11.0,14.0,12.0,11.0,
     10.0,13.5,11.5,10.0, 9.5,14.5,12.0,11.0, 10.5,15.0,12.5,11.0,
     10.5,15.0,12.0,10.5, 10.0,16.0,13.0,11.5, 11.0,15.5,13.0,11.0],
    [10.0,13.6,11.6,10.6, 9.8,10.5,9.5,6.5, 7.5,12.5,9.5,7.5,
     5.0,11.5,8.5,7.0, 5.0,11.0,9.0,8.0, 7.5,11.5,9.0,8.0,
     7.5,12.0,10.0,8.5, 8.0,11.0,8.5,6.5, 5.5,9.0,7.0,5.5,
     4.5,8.0,6.0,4.5, 4.0,8.5,6.0,4.0, 3.5,8.0,6.0,4.5,
     3.0,8.5,5.5,3.5, 2.5,8.0,6.0,4.5, 3.0,8.0,6.0,4.0],
    [10.6,14.8,12.5,11.4, 10.8,11.8,10.8,7.8, 8.8,13.8,10.6,8.8,
     6.8,13.2,10.0,9.2, 8.5,14.0,12.0,11.5, 11.0,14.5,12.0,11.0,
     10.5,14.5,12.5,11.5, 11.0,13.5,11.0,9.0, 8.0,12.5,10.5,9.5,
     9.0,12.5,10.5,10.0, 9.5,13.0,11.0,10.0, 9.0,13.5,11.5,10.5,
     10.5,14.0,11.5,10.0, 9.5,13.5,11.5,10.5, 10.0,14.0,12.0,10.5],
    [10.3,14.1,12.0,10.9, 10.1,11.0,10.0,6.9, 7.9,13.0,10.0,8.0,
     5.8,12.6,9.6,8.4, 7.0,12.5,10.5,10.0, 9.5,13.0,10.5,9.5,
     9.5,13.5,11.5,10.5, 10.0,12.5,10.0,8.0, 7.0,10.5,8.5,7.5,
     6.5,10.0,8.0,7.0, 7.0,11.0,8.5,7.5, 7.0,11.0,9.0,8.0,
     7.0,11.5,9.0,7.5, 7.0,11.0,9.0,8.0, 7.0,11.0,9.5,7.5],
    [10.4,14.4,12.3,11.3, 10.6,11.2,10.2,7.4, 8.4,13.4,10.3,8.4,
     6.2,13.0,10.2,9.4, 9.0,16.5,14.0,13.5, 13.0,16.0,13.5,12.5,
     12.0,17.0,14.5,13.0, 12.5,15.5,13.0,11.0, 10.0,13.0,11.0,10.0,
     9.0,12.0,10.0,9.0, 8.5,12.5,10.0,9.0, 8.0,12.5,10.0,9.0,
     8.5,13.5,11.0,9.5, 9.0,17.5,14.0,12.0, 11.5,15.0,13.0,11.0],
    [10.1,13.7,11.7,10.7, 9.9,10.7,9.7,6.6, 7.6,12.6,9.7,7.6,
     5.2,12.2,9.2,7.6, 5.5,11.5,9.5,8.5, 8.0,12.0,9.5,8.5,
     8.0,12.5,10.5,9.0, 8.5,11.5,9.0,7.0, 6.0,9.5,7.5,6.0,
     5.0,8.5,6.5,5.5, 5.0,9.5,7.0,5.5, 5.0,9.5,7.0,5.5,
     4.5,9.5,7.0,5.0, 4.5,9.5,7.0,5.5, 5.0,9.5,7.5,5.5],
    [10.5,14.6,12.4,11.2, 10.4,11.4,10.6,7.6, 8.6,13.6,10.4,8.6,
     6.6,13.4,10.4,9.6, 9.5,14.5,12.0,11.0, 10.5,14.0,11.5,10.5,
     10.0,14.5,12.5,11.0, 10.5,13.0,10.5,8.5, 7.5,11.0,9.0,8.0,
     7.0,10.5,8.5,7.5, 7.5,13.0,11.0,10.0, 10.0,15.0,12.5,11.0,
     10.0,15.5,13.0,11.0, 10.5,14.5,12.0,10.5, 10.0,14.0,12.0,10.0],
    [10.2,13.9,11.9,10.9, 10.0,10.9,9.9,6.8, 7.8,12.9,9.9,7.9,
     5.6,12.4,9.4,8.2, 6.0,11.5,10.0,9.5, 9.0,13.0,10.5,9.5,
     9.5,14.0,12.0,10.5, 10.5,13.0,10.5,8.0, 6.5,10.0,8.0,7.0,
     6.5,9.5,7.5,6.5, 5.5,10.0,7.5,6.5, 6.5,11.0,9.0,8.0,
     7.0,12.0,9.5,8.0, 7.0,11.5,9.5,8.0, 7.0,11.0,9.5,7.5],
    [10.4,14.3,12.2,11.1, 10.3,11.1,10.1,7.1, 8.1,13.1,10.1,8.1,
     5.9,12.7,9.7,8.8, 8.5,14.0,11.5,11.0, 11.0,15.0,12.5,11.5,
     11.0,15.0,13.0,12.0, 11.5,14.5,12.0,10.0, 9.0,12.5,10.5,9.0,
     8.5,11.5,9.5,8.5, 8.5,12.0,9.5,8.5, 8.0,12.0,10.0,9.0,
     8.0,12.5,10.0,8.5, 8.0,12.0,10.0,9.0, 8.5,12.5,10.5,8.5],
    [10.0,13.5,11.5,10.5, 9.7,10.4,9.4,6.4, 7.4,12.4,9.4,7.4,
     4.8,11.8,8.8,7.2, 4.0,10.5,8.5,7.5, 7.0,11.0,8.5,7.5,
     7.0,11.5,9.5,8.0, 7.5,10.5,8.0,6.0, 5.0,8.5,6.5,5.0,
     4.0,7.5,5.5,4.0, 3.0,7.5,5.5,3.5, 2.0,7.0,5.0,3.5,
     1.0,7.5,5.0,2.5, 2.0,7.0,5.0,3.0, 2.5,6.5,5.0,3.5],
    [10.6,14.7,12.4,11.3, 10.7,11.6,10.4,7.6, 8.6,13.6,10.4,8.6,
     6.6,13.3,10.2,9.4, 10.0,16.0,13.5,13.0, 12.5,17.0,14.0,13.0,
     12.5,16.0,14.0,12.5, 12.0,15.5,13.0,11.0, 10.0,13.0,11.0,10.0,
     9.5,13.0,11.0,10.0, 10.0,15.0,12.5,11.0, 11.0,15.0,12.5,11.5,
     11.0,14.5,12.0,10.5, 10.0,14.5,12.5,11.0, 11.0,16.0,13.5,12.0],
    [10.3,14.0,11.9,10.9, 10.2,11.0,10.0,7.0, 8.0,13.0,10.0,8.0,
     5.7,12.5,9.5,8.6, 7.5,13.0,11.0,10.5, 10.0,13.5,11.0,10.0,
     10.0,14.0,12.0,10.5, 10.5,13.0,10.5,8.5, 7.5,11.0,9.0,8.0,
     7.0,10.5,8.5,7.5, 7.5,11.5,9.0,8.0, 7.5,11.5,9.5,8.5,
     7.5,12.0,9.5,8.0, 7.5,11.5,9.5,8.5, 7.5,11.5,10.0,8.0],
    [10.3,14.2,12.1,11.1, 10.4,11.2,10.2,7.2, 8.2,13.2,10.2,8.2,
     6.0,12.8,9.8,8.8, 8.0,13.5,11.2,10.8, 10.2,13.8,11.2,10.2,
     10.2,14.2,12.2,11.2, 10.8,13.4,10.8,8.8, 7.8,11.4,9.4,8.4,
     7.4,10.8,8.8,8.0, 7.8,11.8,9.4,8.4, 7.8,11.8,9.8,8.8,
     7.8,12.4,9.8,8.4, 7.8,11.8,9.8,8.8, 7.8,11.8,10.2,8.4],
    [10.2,13.9,11.8,10.8, 9.9,10.8,9.8,6.8, 7.8,12.8,9.8,7.8,
     5.5,12.2,9.2,8.0, 6.8,12.2,10.2,9.8, 9.8,13.2,10.8,9.8,
     9.6,13.2,11.0,9.8, 9.8,12.6,10.2,8.2, 7.2,10.8,8.8,7.6,
     6.8,10.2,8.2,7.4, 7.0,10.4,8.2,7.0, 6.8,10.6,8.8,7.8,
     7.2,11.2,8.8,7.2, 6.8,10.6,8.6,7.6, 7.0,10.8,9.2,7.6],
    [10.4,14.3,12.2,11.2, 10.4,11.3,10.3,7.3, 8.3,13.3,10.3,8.3,
     6.3,13.0,10.0,9.2, 8.8,14.8,12.6,12.0, 11.4,15.2,12.6,11.6,
     11.6,15.6,13.4,12.2, 11.8,14.8,12.2,10.2, 9.2,12.6,10.6,9.6,
     8.8,12.4,10.4,9.4, 9.0,13.2,10.8,9.6, 9.4,13.6,11.4,10.2,
     9.6,14.2,11.6,10.0, 9.4,13.6,11.2,10.0, 9.6,13.8,11.8,10.0],
    [10.1,13.8,11.7,10.7, 9.9,10.6,9.6,6.6, 7.6,12.6,9.6,7.6,
     5.3,12.0,9.0,7.8, 6.2,11.8,9.8,9.0, 8.5,12.5,10.0,9.0,
     8.8,13.0,11.0,9.6, 9.2,12.0,9.6,7.6, 6.6,10.2,8.2,7.2,
     6.2,9.6,7.6,6.8, 6.4,10.0,7.6,6.6, 6.2,10.2,8.0,7.0,
     6.0,10.4,8.0,6.6, 5.8,10.0,8.0,7.0, 6.0,10.0,8.4,6.8],
    [10.5,14.5,12.3,11.3, 10.6,11.4,10.4,7.4, 8.4,13.4,10.4,8.4,
     6.4,13.2,10.2,9.4, 9.4,15.5,13.0,12.5, 12.0,16.5,13.6,12.4,
     11.6,15.5,13.5,12.0, 12.2,15.0,12.5,10.5, 9.5,12.5,10.5,9.5,
     9.2,12.8,10.8,9.8, 9.6,14.0,11.8,10.6, 10.2,14.6,12.2,11.0,
     10.4,16.0,13.2,11.4, 10.6,15.2,12.6,11.2, 10.6,15.8,13.0,11.2],
    [10.2,13.7,11.7,10.7, 10.0,10.7,9.7,6.7, 7.7,12.7,9.7,7.7,
     5.4,12.1,9.1,7.4, 4.8,10.8,9.2,8.2, 7.8,11.8,9.2,8.2,
     7.8,12.2,10.2,8.8, 8.2,11.2,8.8,6.8, 5.8,9.2,7.2,6.2,
     5.2,8.8,6.8,5.2, 4.6,9.0,6.6,5.0, 4.6,9.2,6.8,5.6,
     4.2,9.6,7.0,5.4, 4.0,8.6,6.4,4.8, 4.2,8.6,6.6,5.0],
]

# ---------------- Sneeuwval / 6 uur (cm) ----------------
snow_control = [0,0,0,0, 0,0,0,0, 0,0,0,0, 0,0,0,0, 0,0,0,0, 0,0,0,0,
                0,0,0,0, 0,0,0,0, 0,0,0,0, 0,0,0,0, 0,0,0,0, 0,0,0,0,
                0,0,0,0, 0,0,0,0, 0,0,0,0]
snow_oper = [0,0,0,0, 0,0,0,0, 0,0,0,0, 0,0,0,0, 0,0,0,0, 0,0,0,0,
             0,0,0,0, 0,0,0,0, 0,0,0,0, 0,0,0,0]
snow_mean = [0,0,0,0, 0,0,0,0, 0,0,0,0, 0,0,0,0, 0,0,0,0, 0,0,0,0,
             0,0,0,0, 0,0,0,0, 0,0,0,0, 0,0,0,0, 0,0,0,0, 0,0,0,0,
             0,0,0,0, 0,0,0,0, 0,0,0,0]
snow_members = [
    [0,0,0,0, 0,0,0,0, 0,0,0,0, 0,0,0,0, 0,0,0,0, 0,0,0,0,
     0,0,0,0, 0,0,0,0, 0,0,0,0, 0,0,0,0, 0,0,0,0, 0,0,0,0,
     0,0,0,0, 0,0,0,0, 0,0,0,0.2],
    [0,0,0,0, 0,0,0,0, 0,0,0,0, 0,0,0,0, 0,0,0,0, 0,0,0,0,
     0,0,0,0, 0,0,0,0, 0,0,0,0, 0,0,0,0, 0,0,0,0, 0,0,0,0,
     0,0,0,0, 0,0,0,0, 0,0,0,0],
]


def cumulative(values):
    out, total = [], 0.0
    for v in values:
        total += v
        out.append(round(total, 2))
    return out


for name, arr in [("precip_control", precip_control), ("precip_mean", precip_mean),
                  ("wind_control", wind_control), ("wind_mean", wind_mean),
                  ("gust_control", gust_control), ("gust_mean", gust_mean),
                  ("t2m_control", t2m_control), ("t2m_mean", t2m_mean),
                  ("snow_control", snow_control), ("snow_mean", snow_mean)]:
    assert len(arr) == 60, (name, len(arr))
for name, arr in [("precip_oper", precip_oper), ("wind_oper", wind_oper),
                  ("gust_oper", gust_oper), ("t2m_oper", t2m_oper), ("snow_oper", snow_oper)]:
    assert len(arr) == 40, (name, len(arr))
for name, group in [("precip", precip_members), ("wind", wind_members), ("gust", gust_members),
                    ("t2m", t2m_members), ("snow", snow_members)]:
    for i, m in enumerate(group):
        assert len(m) == 60, (name, i, len(m))

panels = [
    dict(members=precip_members, control=precip_control, oper=precip_oper, mean=precip_mean,
         yrange=[0, 20], ytick=[0, 5, 10, 15, 20], ytitle="mm", label="Neerslag/6 uur",
         hlines=[(15, "dot")]),
    dict(members=[cumulative(m) for m in precip_members], control=cumulative(precip_control),
         oper=cumulative(precip_oper), mean=cumulative(precip_mean),
         yrange=[0, 120], ytick=[0, 20, 40, 60, 80, 100, 120], ytitle="mm", label="Accum Neerslag",
         hlines=[]),
    dict(members=wind_members, control=wind_control, oper=wind_oper, mean=wind_mean,
         yrange=[0, 20], ytick=[0, 5, 10, 15, 20], ytitle="m/s", label="10m wind",
         hlines=[(10.8, "dot"), (13.9, "dot"), (17.2, "dot")]),
    dict(members=gust_members, control=gust_control, oper=gust_oper, mean=gust_mean,
         yrange=[0, 30], ytick=[0, 5, 10, 15, 20, 25, 30], ytitle="m/s", label="Windstoten",
         hlines=[(20, "dot"), (25, "dot"), (28.5, "magenta")]),
    dict(members=t2m_members, control=t2m_control, oper=t2m_oper, mean=t2m_mean,
         yrange=[-5, 25], ytick=[-5, 0, 5, 10, 15, 20, 25], ytitle="Celsius", label="T2m",
         hlines=[(0, "thick")]),
    dict(members=snow_members, control=snow_control, oper=snow_oper, mean=snow_mean,
         yrange=[0, 5], ytick=[0, 1, 2, 3, 4, 5], ytitle="cm", label="Sneeuwval/6 uur",
         hlines=[]),
]

GREEN = "#7cae48"
BLUE = "#2a2aff"
RED = "#ff2a2a"
MEAN = "#7a1010"
FRAME = "#3b3bd6"

# panel geometry in pixels (inside each 389 x 184 cell)
COL_OFF = [0, 388]
ROW_OFF = [0, 184, 368]
PL, PR, PT, PB = 32.3, 358.3, 18.3, 155.7


def fx(px):
    return px / W


def fy(py):
    return 1 - py / H


NB = "\u00a0"
# title pieces and their left edges (px from the cell's left side)
title_parts = [("Vrijdag", 83.4), ("5" + NB + "October", 124.5), ("2012", 178.7),
               ("(starttijd", 212.5), ("Vr" + NB + "00" + NB + "<b>UTC)</b>", 261.0)]

fig = go.Figure()
layout = dict(width=W, height=H, margin=dict(l=0, r=0, t=0, b=0, pad=0),
              paper_bgcolor="white", plot_bgcolor="white", showlegend=False,
              font=dict(family=FONT, color="black"))
annotations, shapes = [], []

for p, pnl in enumerate(panels):
    k = p + 1
    row, col = divmod(p, 2)
    ox, oy = COL_OFF[col], ROW_OFF[row]
    xid = "x" if k == 1 else f"x{k}"
    yid = "y" if k == 1 else f"y{k}"
    yrid = f"y{k + 6}"
    xkey = "xaxis" if k == 1 else f"xaxis{k}"
    ykey = "yaxis" if k == 1 else f"yaxis{k}"
    yrkey = f"yaxis{k + 6}"
    L, R, T, B = ox + PL, ox + PR, oy + PT, oy + PB

    for m in pnl["members"]:
        fig.add_trace(go.Scatter(x=lead_hours, y=m, mode="lines", xaxis=xid, yaxis=yid,
                                 line=dict(color=GREEN, width=1.0), hoverinfo="skip"))
    fig.add_trace(go.Scatter(x=lead_hours, y=pnl["control"], mode="lines", xaxis=xid, yaxis=yid,
                             line=dict(color=BLUE, width=1.5, dash="4px,2px"), hoverinfo="skip"))
    fig.add_trace(go.Scatter(x=oper_hours, y=pnl["oper"], mode="lines", xaxis=xid, yaxis=yid,
                             line=dict(color=RED, width=1.5), hoverinfo="skip"))
    fig.add_trace(go.Scatter(x=lead_hours, y=pnl["mean"], mode="lines", xaxis=xid, yaxis=yid,
                             line=dict(color=MEAN, width=2.5, dash="2px,2px"), hoverinfo="skip"))
    # empty trace so the right-hand axis is drawn
    fig.add_trace(go.Scatter(x=[], y=[], mode="lines", xaxis=xid, yaxis=yrid, hoverinfo="skip"))

    layout[xkey] = dict(domain=[fx(L), fx(R)], anchor=yid, range=[0, 360],
                        tickmode="array", tickvals=boundary_hours, ticktext=["00"] * len(boundary_hours),
                        tickfont=dict(size=6, family=FONT), ticks="outside", ticklen=3, tickcolor="black",
                        ticklabelstandoff=-4,
                        showline=True, linecolor="black", linewidth=1, mirror=False,
                        showgrid=False, zeroline=False, fixedrange=True, automargin=False,
                        minor=dict(tickmode="array", tickvals=minor_hours, ticks="outside",
                                   ticklen=2, tickcolor="#9a9a9a"))
    layout[ykey] = dict(domain=[fy(B), fy(T)], anchor=xid, range=pnl["yrange"],
                        tickmode="array", tickvals=pnl["ytick"], ticks="outside", ticklen=3,
                        tickcolor="black", tickfont=dict(size=10, family=FONT),
                        showline=True, linecolor="black", linewidth=1, automargin=False,
                        showgrid=False, zeroline=False, fixedrange=True)
    layout[yrkey] = dict(overlaying=yid, anchor=xid, side="right", range=pnl["yrange"],
                         tickmode="array", tickvals=pnl["ytick"], ticks="outside", ticklen=3,
                         tickcolor="black", tickfont=dict(size=10, family=FONT),
                         showline=True, linecolor="#444444", linewidth=1.3, automargin=False,
                         showgrid=False, zeroline=False, fixedrange=True)

    # reference lines
    for val, style in pnl["hlines"]:
        if style == "dot":
            ln = dict(color="black", width=1, dash="1px,2px")
        elif style == "magenta":
            ln = dict(color="#ff22ff", width=1.3, dash="5px,2px")
        else:
            ln = dict(color="black", width=2.5)
        shapes.append(dict(type="line", xref=xid, yref=yid, x0=0, x1=360, y0=val, y1=val,
                           line=ln, layer="below" if style == "dot" else "above"))

    # titles and texts
    for txt, tx in title_parts:
        annotations.append(dict(text=txt, x=fx(ox + tx), y=fy(oy + 8.8), xref="paper", yref="paper",
                                xanchor="left", yanchor="middle", showarrow=False,
                                font=dict(size=11, family=FONT)))
    annotations.append(dict(text="<b>" + pnl["ytitle"] + "</b>", x=fx(ox + 12.7), y=fy((T + B) / 2),
                            xref="paper", yref="paper", xanchor="center", yanchor="middle",
                            showarrow=False, textangle=-90, font=dict(size=10.5, family=FONT)))
    annotations.append(dict(text="<b>Dag</b>", x=fx(ox + 195), y=fy(oy + 174.2), xref="paper", yref="paper",
                            xanchor="center", yanchor="middle", showarrow=False,
                            font=dict(size=10.5, family=FONT)))
    annotations.append(dict(text="<b>Bron:" + NB + "ECMWF/KNMI</b>", x=fx(ox + 341), y=fy(oy + 174),
                            xref="paper", yref="paper", xanchor="center", yanchor="middle",
                            showarrow=False, font=dict(size=7, family=FONT, color="#1515ee")))
    annotations.append(dict(text="De Bilt", x=fx(ox + 320), y=fy(oy + 24), xref="paper", yref="paper",
                            xanchor="center", yanchor="middle", showarrow=False,
                            font=dict(size=10, family=FONT)))
    annotations.append(dict(text=pnl["label"], x=fx(ox + 320), y=fy(oy + 34.4), xref="paper", yref="paper",
                            xanchor="center", yanchor="middle", showarrow=False,
                            font=dict(size=10, family=FONT)))
    for d, lab in zip(day_centers, day_labels):
        annotations.append(dict(text=lab, x=d, xref=xid, y=fy(oy + 162.6), yref="paper",
                                xanchor="center", yanchor="middle", showarrow=False,
                                font=dict(size=9.5, family=FONT)))
    # legend
    for ly, txt, ln in [(25.0, "Control", dict(color=BLUE, width=1.5, dash="4px,2px")),
                        (31.7, "Oper", dict(color=RED, width=1.5)),
                        (38.3, "Ens mn", dict(color=MEAN, width=2.5, dash="2px,2px"))]:
        shapes.append(dict(type="line", xref="paper", yref="paper", x0=fx(ox + 35), x1=fx(ox + 57),
                           y0=fy(oy + ly), y1=fy(oy + ly), line=ln))
        annotations.append(dict(text=txt, x=fx(ox + 80), y=fy(oy + ly), xref="paper", yref="paper",
                                xanchor="center", yanchor="middle", showarrow=False,
                                font=dict(size=7, family=FONT)))

# blue cell frames
frame = dict(color=FRAME, width=1)
shapes.append(dict(type="rect", xref="paper", yref="paper", x0=fx(0.5), x1=fx(777.5),
                   y0=fy(553.5), y1=fy(0.5), line=frame))
shapes.append(dict(type="line", xref="paper", yref="paper", x0=fx(389), x1=fx(389),
                   y0=0, y1=1, line=frame))
for yy in (183.5, 368):
    shapes.append(dict(type="line", xref="paper", yref="paper", x0=0, x1=1,
                       y0=fy(yy), y1=fy(yy), line=frame))

layout["annotations"] = annotations
layout["shapes"] = shapes
fig.update_layout(**layout)
fig.write_html("out.html", config={"displayModeBar": False, "staticPlot": True},
               post_script="document.body.style.margin='0';document.body.style.overflow='hidden';")
